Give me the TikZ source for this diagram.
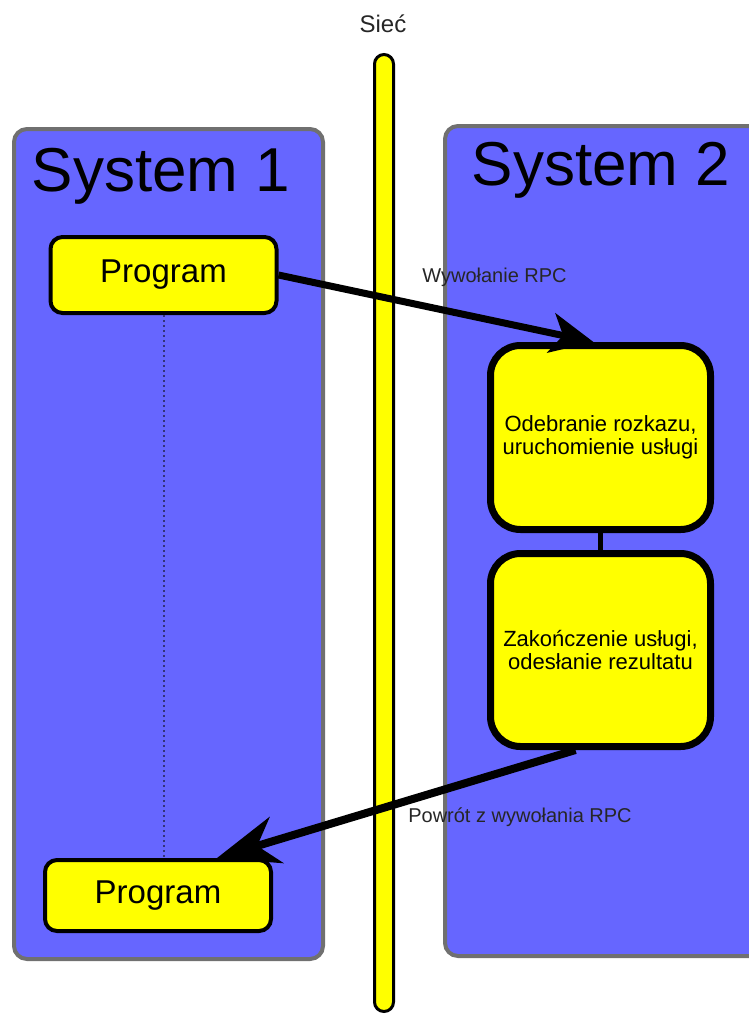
\documentclass[tikz,border=0pt]{standalone}
\usepackage{fontspec}
\setmainfont{Liberation Sans}
\usetikzlibrary{arrows.meta,calc}
\definecolor{sysblue}{HTML}{6666FF}
\definecolor{boxyellow}{HTML}{FFFF00}
\definecolor{frame}{HTML}{707070}
\definecolor{lifeline}{HTML}{33337A}
\begin{document}
\begin{tikzpicture}[x=1pt,y=-1pt,
  system/.style={draw=frame,fill=sysblue,line width=4pt,rounded corners=13pt,
    inner sep=0pt,minimum width=#1},
  title/.style={font=\fontsize{62}{68}\selectfont,anchor=base},
  progbox/.style={draw=black,fill=boxyellow,line width=4pt,rounded corners=12pt,
    inner sep=0pt,minimum width=226pt,font=\fontsize{33}{38}\selectfont},
  taskbox/.style={draw=black,fill=boxyellow,line width=7pt,rounded corners=30pt,
    inner sep=0pt,minimum width=220pt,align=center,
    font=\fontsize{22}{23}\selectfont},
  lbl/.style={font=\fontsize{20}{23}\selectfont,text=black!85},
  call/.style={line width=7pt,-{Stealth[length=43pt,width=40pt,inset=12pt]}},
  reply/.style={line width=8pt,-{Stealth[length=62pt,width=48pt,inset=20pt]}}]
\useasboundingbox (0,0) rectangle (749,1015);

% the two systems
\node[system=309pt,minimum height=830pt] (sys1) at (168.5,544) {};
\node[system=335pt,minimum height=830pt] (sys2) at (612.5,541) {};
\node[title] (t1) at (161,191) {System 1};
\node[title] (t2) at (601,185) {System 2};

% the network between them
\node[draw=black,fill=boxyellow,line width=3pt,rounded corners=9.5pt,inner sep=0pt,
  minimum width=19pt,minimum height=957pt] (net) at (384,533) {};
\node[font=\fontsize{24}{28}\selectfont,text=black!85] (netlbl) at (383,24) {Sieć};

% client program, before and after the call
\node[progbox,minimum height=76pt] (prog1) at (163.5,275) {Program};
\node[progbox,minimum height=71pt] (prog2) at (158,895.5) {Program};
\draw[lifeline,line width=2pt,dash pattern=on 2pt off 3pt] (prog1.south) -- (prog1.south |- prog2.north);

% server side steps
\node[taskbox,minimum height=184pt] (recv) at (600.5,437.5) {Odebranie rozkazu,\\uruchomienie usługi};
\node[taskbox,minimum height=193pt] (send) at (600.5,650) {Zakończenie usługi,\\odesłanie rezultatu};
\draw[line width=5pt] (recv.south) -- (send.north);

% call and return
\draw[call] (prog1.east) -- ($(recv.north)+(-7,0)$);
\node[lbl] (calllbl) at (494.5,277) {Wywołanie RPC};
\draw[reply] ($(send.south)+(-25,0)$) -- ($(prog2.north)+(59,0)$);
\node[lbl] (replylbl) at (520,817) {Powrót z wywołania RPC};
\end{tikzpicture}
\end{document}
